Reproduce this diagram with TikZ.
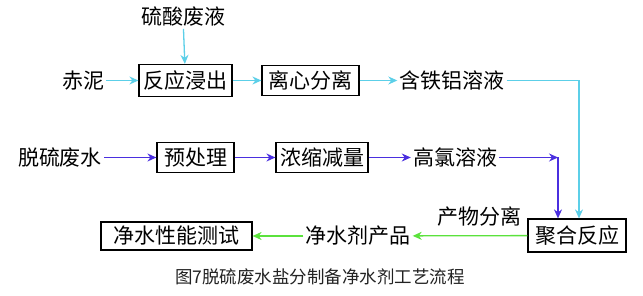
\documentclass[tikz,border=0pt]{standalone}
\usepackage{fontspec}
\usepackage{tikz}
\usetikzlibrary{arrows.meta}
\newfontfamily\cjk{Noto Sans CJK SC}
\definecolor{qingLan}{HTML}{5CCFE8}
\definecolor{ziLan}{HTML}{4A2FDF}
\definecolor{lvSe}{HTML}{5BE23C}
\definecolor{shenHui}{HTML}{222222}

\begin{document}
\begin{tikzpicture}[x=1pt, y=-1pt, every node/.style={font=\cjk\fontsize{21}{24}\selectfont, inner sep=2pt},
  kuang/.style={draw, line width=1.2pt, minimum height=32pt, inner sep=0pt},
  jiantou/.style={-{Stealth[length=9pt,width=8pt]}, line width=1.3pt}]
\useasboundingbox (0,0) rectangle (643,296);
% upper row
\node (liusuan) at (183,17) {硫酸废液};
\node (chini) at (83,80.5) {赤泥};
\node[kuang, minimum width=93pt] (fanying) at (185.5,80.5) {反应浸出};
\node[kuang, minimum width=97pt, minimum height=30pt] (lixin) at (310.5,80.5) {离心分离};
\node (tielv) at (452,80.5) {含铁铝溶液};
\coordinate (qingJiao) at (579,80.5);
% middle row
\node (tuoliu) at (60,157.5) {脱硫废水};
\node[kuang, minimum width=77pt, minimum height=30pt] (yuchuli) at (195.5,157.5) {预处理};
\node[kuang, minimum width=92pt, minimum height=30pt] (nongsuo) at (322,157.5) {浓缩减量};
\node (gaolv) at (455,157.5) {高氯溶液};
\coordinate (ziJiao) at (558,157.5);
% lower row
\node[kuang, minimum width=98pt, minimum height=33pt] (juhe) at (577,235.5) {聚合反应};
\node (chanwu) at (479.5,217) {产物分离};
\node (jingshuiji) at (358,236) {净水剂产品};
\node[kuang, minimum width=151pt, minimum height=28pt] (ceshi) at (176.5,236) {净水性能测试};
\node[font=\cjk\fontsize{17.5}{20}\selectfont, text=shenHui] (tuming) at (320,277) {图7脱硫废水盐分制备净水剂工艺流程};

\draw[jiantou, qingLan] (liusuan) -- (fanying);
\draw[jiantou, qingLan] (chini) -- (fanying);
\draw[jiantou, qingLan] (fanying) -- (lixin);
\draw[jiantou, qingLan] (lixin) -- (tielv);
\draw[jiantou, qingLan] (tielv) -- (qingJiao) -- (qingJiao |- juhe.north);
\draw[jiantou, ziLan] (tuoliu) -- (yuchuli);
\draw[jiantou, ziLan] (yuchuli) -- (nongsuo);
\draw[jiantou, ziLan] (nongsuo) -- (gaolv);
\draw[jiantou, ziLan] (gaolv) -- (ziJiao);
\draw[jiantou, ziLan] (ziJiao) -- (ziJiao |- juhe.north);
\draw[jiantou, lvSe] (juhe) -- (jingshuiji);
\draw[jiantou, lvSe] (jingshuiji) -- (ceshi);
\end{tikzpicture}
\end{document}
